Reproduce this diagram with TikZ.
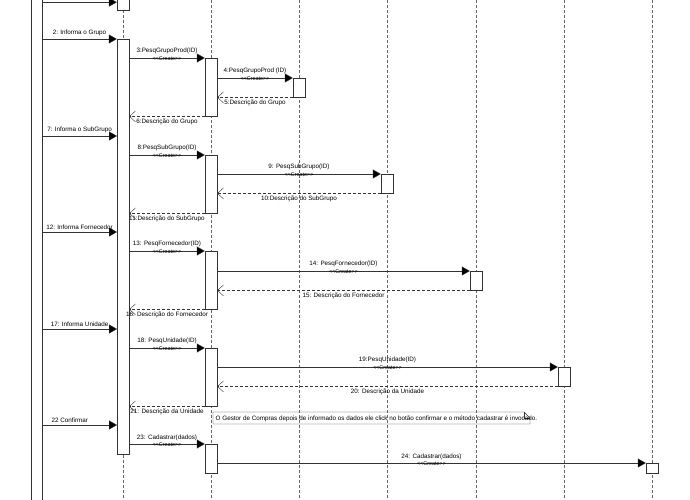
\documentclass[tikz,border=0pt]{standalone}
\usepackage{fontspec}
\setmainfont{Liberation Sans}
\usetikzlibrary{arrows.meta}

\tikzset{
	act/.style={draw=black!80, fill=white, minimum width=12pt, inner sep=0pt, anchor=north},
	lifeline/.style={draw=black!60, dash pattern=on 3pt off 2pt},
	msg/.style={draw=black!80, -{Triangle[length=8pt,width=9pt,fill=black]}},
	ret/.style={draw=black!80, dash pattern=on 3pt off 2pt, -{Straight Barb[length=6pt,width=11pt,line width=0.4pt]}},
	lbl/.style={font=\fontsize{6.3}{7}\selectfont, inner sep=0.5pt, text=black},
	crt/.style={font=\fontsize{5.4}{6}\selectfont, inner sep=0pt, text=black}
}
\newcommand{\crtxt}{<{}<Create>{}>}

\begin{document}
\begin{tikzpicture}[x=1pt,y=-1pt]
	\useasboundingbox (0,0) rectangle (690,500);

	% lifelines
	\draw[lifeline] (123,0) -- (123,500);
	\draw[lifeline] (211,0) -- (211,500);
	\draw[lifeline] (299,0) -- (299,500);
	\draw[lifeline] (387,0) -- (387,500);
	\draw[lifeline] (476,0) -- (476,500);
	\draw[lifeline] (564,0) -- (564,500);
	\draw[lifeline] (652,0) -- (652,500);

	% activations
	\node[act, minimum width=11pt, minimum height=520pt] (ator) at (36.5,-10) {};
	\node[act, minimum height=16pt] (g0) at (123,-6) {};
	\node[act, minimum height=415pt] (g1) at (123,39) {};
	\node[act, minimum height=58pt] (p1) at (211,58) {};
	\node[act, minimum height=58pt] (p2) at (211,155) {};
	\node[act, minimum height=58pt] (p3) at (211,251) {};
	\node[act, minimum height=58pt] (p4) at (211,348) {};
	\node[act, minimum height=29pt] (p5) at (211,444) {};
	\node[act, minimum height=19pt] (gp) at (299,78) {};
	\node[act, minimum height=19pt] (sg) at (387,174) {};
	\node[act, minimum height=19pt] (fo) at (476,271) {};
	\node[act, minimum height=19pt] (un) at (564,367) {};
	\node[act, minimum height=10pt] (ca) at (652,463) {};

	\coordinate (e7) at (117,136);
	\coordinate (e12) at (117,232);
	\coordinate (e17) at (117,329);
	\coordinate (e22) at (117,425);

	% messages
	\draw[msg] (ator.east |- g0.west) -- (g0.west);
	\draw[msg] (ator.east |- g1.north) -- node[lbl, above=2pt] {2: Informa o Grupo} (g1.north west);
	\draw[msg] (g1.east |- p1.north) -- node[lbl, above=3pt] {3:PesqGrupoProd(ID)} node[crt, below=-1pt] {\crtxt} (p1.north west);
	\draw[msg] (p1.east |- gp.north) -- node[lbl, above=3pt] {4:PesqGrupoProd (ID)} node[crt, below=-1pt] {\crtxt} (gp.north west);
	\draw[ret] (gp.south west) -- node[lbl, below=2pt] {5:Descrição do Grupo} (p1.east |- gp.south);
	\draw[ret] (p1.south west) -- node[lbl, below=2pt] {6:Descrição do Grupo} (g1.east |- p1.south);

	\draw[msg] (ator.east |- e7) -- node[lbl, above=2pt] {7: Informa o SubGrupo} (e7);
	\draw[msg] (g1.east |- p2.north) -- node[lbl, above=3pt] {8:PesqSubGrupo(ID)} node[crt, below=-1pt] {\crtxt} (p2.north west);
	\draw[msg] (p2.east |- sg.north) -- node[lbl, above=3pt] {9: PesqSubGrupo(ID)} node[crt, below=-1pt] {\crtxt} (sg.north west);
	\draw[ret] (sg.south west) -- node[lbl, below=2pt] {10:Descrição do SubGrupo} (p2.east |- sg.south);
	\draw[ret] (p2.south west) -- node[lbl, below=2pt] {11:Descrição do SubGrupo} (g1.east |- p2.south);

	\draw[msg] (ator.east |- e12) -- node[lbl, above=2pt] {12: Informa Fornecedor} (e12);
	\draw[msg] (g1.east |- p3.north) -- node[lbl, above=3pt] {13: PesqFornecedor(ID)} node[crt, below=-1pt] {\crtxt} (p3.north west);
	\draw[msg] (p3.east |- fo.north) -- node[lbl, above=3pt] {14: PesqFornecedor(ID)} node[crt, below=-1pt] {\crtxt} (fo.north west);
	\draw[ret] (fo.south west) -- node[lbl, below=2pt] {15: Descrição do Fornecedor} (p3.east |- fo.south);
	\draw[ret] (p3.south west) -- node[lbl, below=2pt] {16: Descrição do Fornecedor} (g1.east |- p3.south);

	\draw[msg] (ator.east |- e17) -- node[lbl, above=2pt] {17: Informa Unidade} (e17);
	\draw[msg] (g1.east |- p4.north) -- node[lbl, above=3pt] {18: PesqUnidade(ID)} node[crt, below=-1pt] {\crtxt} (p4.north west);
	\draw[msg] (p4.east |- un.north) -- node[lbl, above=3pt] {19:PesqUnidade(ID)} node[crt, below=-1pt] {\crtxt} (un.north west);
	\draw[ret] (un.south west) -- node[lbl, below=2pt] {20: Descrição da Unidade} (p4.east |- un.south);
	\draw[ret] (p4.south west) -- node[lbl, below=2pt] {21: Descrição da Unidade} (g1.east |- p4.south);

	% note
	\draw[draw=black!80] (213,412) -- (524,412) -- (530,418) -- (530,424) -- (213,424) -- cycle;
	\draw[draw=black!80] (524,412) -- (524,418) -- (530,418);
	\node[lbl, anchor=west] (nota) at (215,418.5) {O Gestor de Compras depois de informado os dados ele click no botão confirmar e o método cadastrar é invocado.};

	\draw[msg] (ator.east |- e22) -- node[lbl, above=2pt, pos=0.37] {22 Confirmar} (e22);
	\draw[msg] (g1.east |- p5.north) -- node[lbl, above=3pt] {23: Cadastrar(dados)} node[crt, below=-1pt] {\crtxt} (p5.north west);
	\draw[msg] (p5.east |- ca.north) -- node[lbl, above=3pt] {24: Cadastrar(dados)} node[crt, below=-1pt] {\crtxt} (ca.north west);

\end{tikzpicture}
\end{document}
